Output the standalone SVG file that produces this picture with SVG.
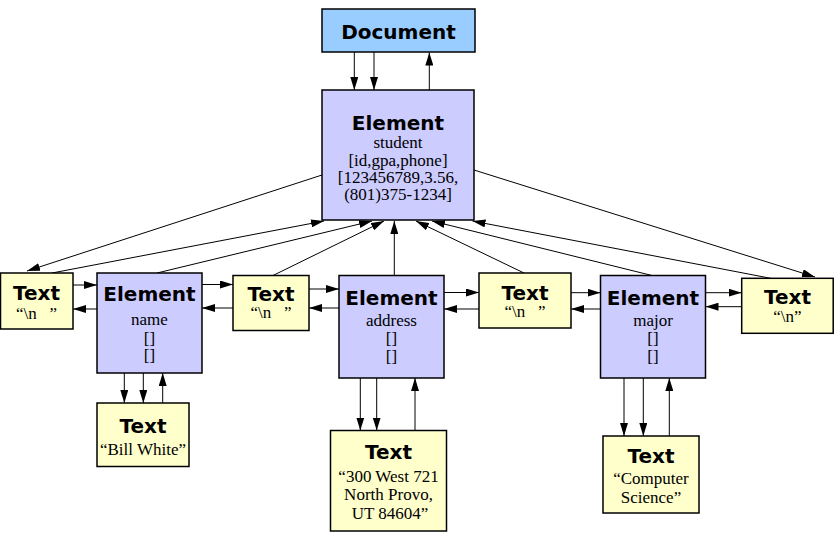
<svg xmlns="http://www.w3.org/2000/svg" width="834" height="544" viewBox="0 0 834 544">
<style>
.box{stroke:#000;stroke-width:1.5}
.doc{fill:#99CCFF}
.el{fill:#CCCCFF}
.tx{fill:#FFFFCC}
.h{font-family:"DejaVu Sans",sans-serif;font-weight:bold;font-size:20px;text-anchor:middle;fill:#000}
.s{font-family:"Liberation Serif",serif;font-size:17px;text-anchor:middle;fill:#000}
.c line{stroke:#000;stroke-width:1;marker-end:url(#ah)}
</style>
<defs>
<marker id="ah" markerUnits="userSpaceOnUse" markerWidth="13" markerHeight="8" refX="13" refY="4" orient="auto">
<path d="M0,0 L13,4 L0,8 z" fill="#000"/>
</marker>
</defs>
<rect width="834" height="544" fill="#fff"/>
<g class="c" id="connectors">
<line x1="354.3" y1="52" x2="354.3" y2="90"/>
<line x1="374" y1="52" x2="374" y2="90"/>
<line x1="429.3" y1="90" x2="429.3" y2="52.5"/>
<line x1="322" y1="175" x2="27" y2="271"/>
<line x1="52" y1="273" x2="324" y2="221"/>
<line x1="157" y1="273" x2="372" y2="221"/>
<line x1="273" y1="275.5" x2="384" y2="221"/>
<line x1="394.3" y1="275.5" x2="394.3" y2="221"/>
<line x1="524" y1="273" x2="416" y2="221"/>
<line x1="652" y1="275.5" x2="432" y2="221"/>
<line x1="770.7" y1="278.3" x2="472.5" y2="221"/>
<line x1="474" y1="170" x2="815" y2="277"/>
<line x1="73" y1="285" x2="97" y2="285"/>
<line x1="97" y1="309" x2="73" y2="309"/>
<line x1="202" y1="284.5" x2="233" y2="284.5"/>
<line x1="233" y1="308" x2="202" y2="308"/>
<line x1="309" y1="289" x2="339" y2="289"/>
<line x1="339" y1="308" x2="309" y2="308"/>
<line x1="444" y1="292.5" x2="479" y2="292.5"/>
<line x1="479" y1="309" x2="444" y2="309"/>
<line x1="571" y1="292.7" x2="600.5" y2="292.7"/>
<line x1="600.5" y1="309" x2="571" y2="309"/>
<line x1="705.5" y1="292.7" x2="741.7" y2="292.7"/>
<line x1="741.7" y1="306.7" x2="705.5" y2="306.7"/>
<line x1="124.3" y1="373" x2="124.3" y2="403"/>
<line x1="143.3" y1="373" x2="143.3" y2="403"/>
<line x1="162.7" y1="403" x2="162.7" y2="373"/>
<line x1="360.3" y1="378" x2="360.3" y2="430.5"/>
<line x1="376.7" y1="378" x2="376.7" y2="430.5"/>
<line x1="415" y1="430.5" x2="415" y2="378"/>
<line x1="624" y1="378" x2="624" y2="436"/>
<line x1="643.3" y1="378" x2="643.3" y2="436"/>
<line x1="669.3" y1="436" x2="669.3" y2="378"/>
</g>
<g id="document">
<rect class="box doc" x="322" y="9" width="153" height="43"/>
<text class="h" x="398.5" y="39">Document</text>
</g>
<g id="student">
<rect class="box el" x="322" y="90" width="152" height="130"/>
<text class="h" x="398" y="130">Element</text>
<text class="s" x="398" y="148">student</text>
<text class="s" x="398" y="166">[id,gpa,phone]</text>
<text class="s" x="398" y="183">[123456789,3.56,</text>
<text class="s" x="398" y="200">(801)375-1234]</text>
</g>
<g id="text1">
<rect class="box tx" x="0.5" y="273" width="72.5" height="56"/>
<text class="h" x="36.5" y="300">Text</text>
<text class="s" x="36.5" y="319">“\n&#160;&#160;&#160;”</text>
</g>
<g id="name">
<rect class="box el" x="97" y="273" width="105" height="100"/>
<text class="h" x="149.5" y="301">Element</text>
<text class="s" x="149.5" y="325">name</text>
<text class="s" x="149.5" y="343.5">[]</text>
<text class="s" x="149.5" y="361">[]</text>
</g>
<g id="text2">
<rect class="box tx" x="233" y="275.5" width="76" height="55"/>
<text class="h" x="271" y="301">Text</text>
<text class="s" x="271" y="318">“\n&#160;&#160;&#160;”</text>
</g>
<g id="address">
<rect class="box el" x="339" y="275.5" width="105" height="102.5"/>
<text class="h" x="391.5" y="305">Element</text>
<text class="s" x="391.5" y="326">address</text>
<text class="s" x="391.5" y="344">[]</text>
<text class="s" x="391.5" y="361.5">[]</text>
</g>
<g id="text3">
<rect class="box tx" x="479" y="273" width="92" height="55"/>
<text class="h" x="525" y="300">Text</text>
<text class="s" x="525" y="317">“\n&#160;&#160;&#160;”</text>
</g>
<g id="major">
<rect class="box el" x="600.5" y="275.5" width="105" height="102.5"/>
<text class="h" x="653" y="305">Element</text>
<text class="s" x="653" y="326">major</text>
<text class="s" x="653" y="344">[]</text>
<text class="s" x="653" y="361.5">[]</text>
</g>
<g id="text4">
<rect class="box tx" x="741.7" y="278.3" width="91.5" height="55"/>
<text class="h" x="787.5" y="304">Text</text>
<text class="s" x="787.5" y="322">“\n”</text>
</g>
<g id="billwhite">
<rect class="box tx" x="97" y="403" width="92" height="63.5"/>
<text class="h" x="143" y="432.5">Text</text>
<text class="s" x="143" y="455">“Bill White”</text>
</g>
<g id="addresstext">
<rect class="box tx" x="330.5" y="430.5" width="116" height="100.5"/>
<text class="h" x="388.5" y="459">Text</text>
<text class="s" x="388.5" y="481.5">“300 West 721</text>
<text class="s" x="388.5" y="500">North Provo,</text>
<text class="s" x="390" y="519">UT 84604”</text>
</g>
<g id="majortext">
<rect class="box tx" x="603" y="436" width="96" height="77"/>
<text class="h" x="651" y="462.5">Text</text>
<text class="s" x="651" y="484">“Computer</text>
<text class="s" x="651" y="503">Science”</text>
</g>
</svg>
